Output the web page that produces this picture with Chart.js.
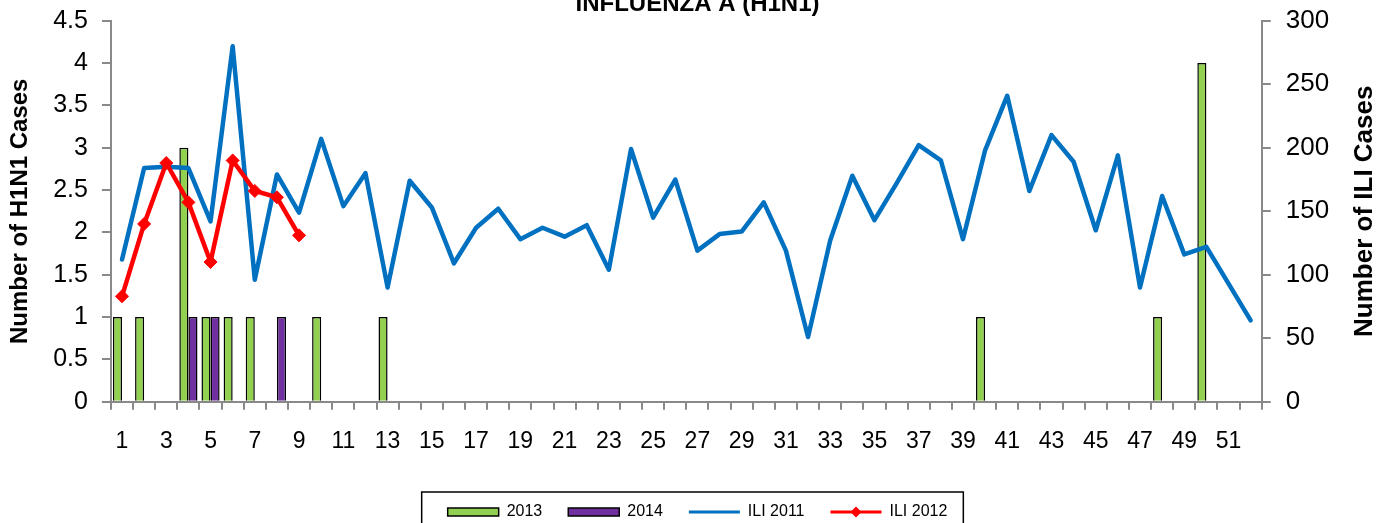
<!DOCTYPE html>
<html>
<head>
<meta charset="utf-8">
<style>
html,body{margin:0;padding:0;background:#fff;overflow:hidden;width:1395px;height:523px;}
#wrap{position:absolute;left:0;top:-10px;width:1395px;height:540px;}
canvas{display:block;}
</style>
<script src="https://cdn.jsdelivr.net/npm/chart.js@4.4.1/dist/chart.umd.min.js"></script>
</head>
<body>
<div id="wrap"><canvas id="c" width="1395" height="540"></canvas></div>
<script>
// ---- data ----
const weeks = ['1','2','3','4','5','6','7','8','9','10','11','12','13','14','15','16','17','18','19','20','21','22','23','24','25','26','27','28','29','30','31','32','33','34','35','36','37','38','39','40','41','42','43','44','45','46','47','48','49','50','51','52'];
const xTickLabels = ['1','3','5','7','9','11','13','15','17','19','21','23','25','27','29','31','33','35','37','39','41','43','45','47','49','51'];
const leftTickLabels = ['0','0.5','1','1.5','2','2.5','3','3.5','4','4.5'];
const rightTickLabels = ['0','50','100','150','200','250','300'];
const h1n1_2013 = [1,1,0,3,1,1,1,0,0,1,0,0,1,0,0,0,0,0,0,0,0,0,0,0,0,0,0,0,0,0,0,0,0,0,0,0,0,0,0,1,0,0,0,0,0,0,0,1,0,4,0,0];
const h1n1_2014 = [0,0,0,1,1,0,0,1,0,0,0,0,0,0,0,0,0,0,0,0,0,0,0,0,0,0,0,0,0,0,0,0,0,0,0,0,0,0,0,0,0,0,0,0,0,0,0,0,0,0,0,0];
const ili2011 = [112,184,185,184,142,280,96,179,149,207,154,180,90,174,153,109,137,152,128,137,130,139,104,199,145,175,119,132,134,157,119,51,127,178,143,172,202,190,128,198,241,166,210,189,135,194,90,162,116,122,93,64];
const ili2012 = [83,140,188,157,110,190,166,161,131];
const leftAxisTitle = 'Number of H1N1 Cases';
const rightAxisTitle = 'Number of ILI Cases';
const chartTitle = 'INFLUENZA A (H1N1)';

// ---- styles ----
const FONT = '"Liberation Sans", Arial, Helvetica, sans-serif';
const AXIS = '#898989';
Chart.defaults.font.family = FONT;
Chart.defaults.color = '#000';

const decor = {
  id: 'decor',
  afterDraw(chart) {
    const ctx = chart.ctx;
    // right axis title, reading bottom-to-top
    const s = chart.scales.y1;
    const t = s.options.title;
    const lh = t.font.size * 1.2;
    const tx = s.right - t.padding.top - lh / 2;
    const ty = (s.top + s.bottom) / 2;
    ctx.save();
    ctx.translate(tx, ty);
    ctx.rotate(-Math.PI / 2);
    ctx.font = 'bold ' + t.font.size + 'px ' + FONT;
    ctx.fillStyle = '#000';
    ctx.textAlign = 'center';
    ctx.textBaseline = 'middle';
    ctx.fillText(t.text, 0, 0);
    ctx.restore();
    // legend frame and marker
    const lg = chart.legend;
    const hb = lg.legendHitBoxes;
    if (!hb || !hb.length) return;
    const first = hb[0], last = hb[hb.length - 1];
    const cy = first.top + first.height / 2;
    const left = first.left - 26;
    const right = last.left + last.width + 16;
    const top = cy - 20;
    ctx.save();
    ctx.strokeStyle = '#000';
    ctx.lineWidth = 1.5;
    ctx.strokeRect(left, top, right - left, chart.height + 10 - top);
    // diamond for ILI 2012
    const d = hb[3];
    const dx = d.left + 51 / 2;
    const r = 5.5;
    ctx.fillStyle = '#FF0000';
    ctx.beginPath();
    ctx.moveTo(dx - r, cy);
    ctx.lineTo(dx, cy - r);
    ctx.lineTo(dx + r, cy);
    ctx.lineTo(dx, cy + r);
    ctx.closePath();
    ctx.fill();
    ctx.restore();
  }
};

new Chart(document.getElementById('c'), {
  type: 'bar',
  data: {
    labels: weeks,
    datasets: [
      { type: 'bar', label: '2013', data: h1n1_2013, backgroundColor: '#92D050', borderColor: '#000', borderWidth: 1.5,
        yAxisID: 'y', order: 2, categoryPercentage: 0.82, barPercentage: 1 },
      { type: 'bar', label: '2014', data: h1n1_2014, backgroundColor: '#7030A0', borderColor: '#000', borderWidth: 1.5,
        yAxisID: 'y', order: 2, categoryPercentage: 0.82, barPercentage: 1 },
      { type: 'line', label: 'ILI 2011', data: ili2011, borderColor: '#0070C0', backgroundColor: '#0070C0', borderWidth: 4.5,
        pointRadius: 0, tension: 0, borderJoinStyle: 'round', borderCapStyle: 'round', yAxisID: 'y1', order: 1 },
      { type: 'line', label: 'ILI 2012', data: ili2012, borderColor: '#FF0000', backgroundColor: '#FF0000', borderWidth: 4.5,
        pointStyle: 'rectRot', pointRadius: 6.5, pointBorderWidth: 1, pointBackgroundColor: '#FF0000', pointBorderColor: '#FF0000',
        tension: 0, borderJoinStyle: 'round', borderCapStyle: 'round', yAxisID: 'y1', order: 0 }
    ]
  },
  options: {
    responsive: false,
    animation: false,
    events: [],
    layout: { padding: 0 },
    plugins: {
      title: { display: true, text: chartTitle, color: '#000', font: { size: 24, weight: 'bold' }, padding: { top: 0, bottom: 2 } },
      legend: {
        position: 'bottom',
        labels: {
          usePointStyle: true, pointStyleWidth: 51, boxHeight: 8, padding: 26,
          font: { size: 16 }, color: '#000',
          generateLabels: (chart) => chart.data.datasets.map((ds, i) => ({
            text: ds.label,
            fillStyle: ds.type === 'bar' ? ds.backgroundColor : ds.borderColor,
            strokeStyle: ds.type === 'bar' ? '#000' : ds.borderColor,
            lineWidth: ds.type === 'bar' ? 1.5 : 3,
            pointStyle: ds.type === 'bar' ? 'rect' : 'line',
            hidden: false,
            datasetIndex: i,
            fontColor: '#000'
          }))
        }
      },
      tooltip: { enabled: false }
    },
    scales: {
      x: {
        offset: true,
        grid: { offset: true, drawOnChartArea: false, tickLength: 8, color: AXIS, lineWidth: 2 },
        border: { color: AXIS, width: 2 },
        ticks: { autoSkip: false, maxRotation: 0, minRotation: 0, padding: 17.8, font: { size: 23 }, color: '#000',
          callback: (v, i) => xTickLabels.includes(weeks[i]) ? weeks[i] : '' },
        afterFit: (s) => { s.height += 5.1; }
      },
      y: {
        position: 'left', min: 0, max: 4.5,
        ticks: { stepSize: 0.5, padding: 14, font: { size: 25 }, color: '#000',
          callback: (v, i) => leftTickLabels[i] },
        grid: { drawOnChartArea: false, tickLength: 9, color: AXIS, lineWidth: 2 },
        border: { color: AXIS, width: 2 },
        title: { display: true, text: leftAxisTitle, color: '#000', font: { size: 24, weight: 'bold' }, padding: { top: 5.6, bottom: 4.8 } }
      },
      y1: {
        position: 'right', min: 0, max: 300,
        ticks: { stepSize: 50, padding: 15, font: { size: 26 }, color: '#000',
          callback: (v, i) => rightTickLabels[i] },
        grid: { drawOnChartArea: false, tickLength: 9, color: AXIS, lineWidth: 2 },
        border: { color: AXIS, width: 2 },
        title: { display: true, text: rightAxisTitle, color: 'rgba(0,0,0,0)', font: { size: 26, weight: 'bold' }, padding: { top: 14.4, bottom: 5.3 } }
      }
    }
  },
  plugins: [decor]
});
</script>
</body>
</html>
